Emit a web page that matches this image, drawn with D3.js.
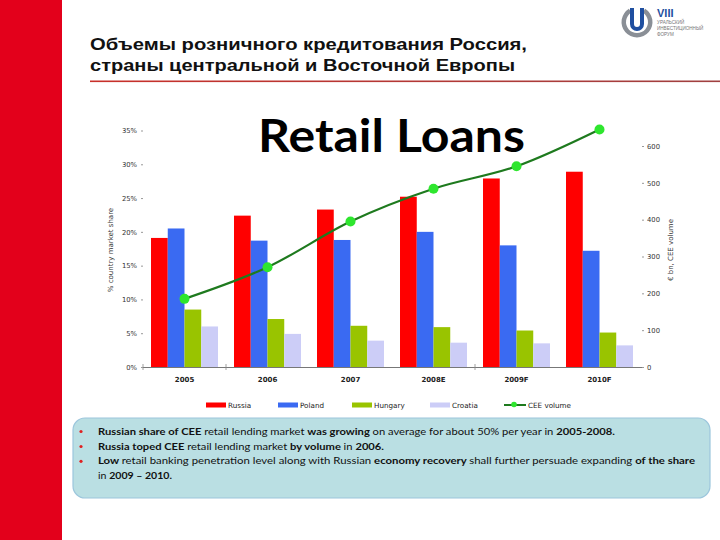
<!DOCTYPE html>
<html><head><meta charset="utf-8">
<script src="https://cdn.jsdelivr.net/npm/d3@7"></script>
<style>html,body{margin:0;padding:0;background:#fff;}svg{display:block;}</style>
</head><body>
<script>
const years = ["2005","2006","2007","2008E","2009F","2010F"];
const seriesNames = ["Russia","Poland","Hungary","Croatia"];
const russia  = [19.1, 22.4, 23.3, 25.2, 27.9, 28.9];
const poland  = [20.5, 18.7, 18.8, 20.0, 18.0, 17.2];
const hungary = [8.5, 7.1, 6.1, 5.9, 5.4, 5.1];
const croatia = [6.0, 4.9, 3.9, 3.6, 3.5, 3.2];
const ceeVolume = [185, 271, 395, 484, 545, 645];
const leftTicks = [0,5,10,15,20,25,30,35];
const rightTicks = [0,100,200,300,400,500,600];
const colors = ["#ff0000","#3a6af2","#99c400","#cccdf7"];
const bullets = [
  [["Russian share of CEE ",1],["retail lending market ",0],["was growing ",1],["on average for about 50% per year in ",0],["2005-2008.",1]],
  [["Russia toped CEE ",1],["retail lending market ",0],["by volume ",1],["in ",0],["2006.",1]],
  [["Low ",1],["retail banking penetration level along with Russian ",0],["economy recovery ",1],["shall further persuade expanding ",0],["of the share",1]],
  [["in ",0],["2009 – 2010.",1]]
];

const W=720,H=540;
const svg=d3.select("body").append("svg").attr("width",W).attr("height",H);

// left red strip
svg.append("rect").attr("x",0).attr("y",0).attr("width",62).attr("height",H).attr("fill","#e3001b");

// header
const hdr=svg.append("g").attr("font-family","Liberation Sans, Arial, sans-serif").attr("font-weight","bold").attr("font-size",17).attr("fill","#111");
hdr.append("text").attr("x",90).attr("y",49.5).attr("textLength",437).attr("lengthAdjust","spacingAndGlyphs").text("Объемы  розничного кредитования Россия,");
hdr.append("text").attr("x",90).attr("y",70.5).attr("textLength",425).attr("lengthAdjust","spacingAndGlyphs").text("страны центральной и Восточной Европы");
const grad=svg.append("defs").append("linearGradient").attr("id","hl");
grad.append("stop").attr("offset","0%").attr("stop-color","#c8302a");
grad.append("stop").attr("offset","100%").attr("stop-color","#a04040");
svg.append("rect").attr("x",90).attr("y",80.5).attr("width",630).attr("height",1.6).attr("fill","url(#hl)");

// logo
const lg=svg.append("g");
lg.append("path").attr("d",d3.arc()({innerRadius:11,outerRadius:15.5,startAngle:0.55,endAngle:2*Math.PI-0.55})).attr("transform","translate(637,22)").attr("fill","#8a8f96");
lg.append("path").attr("d","M630,8 L630,24 A7,7 0 0 0 644,24 L644,8 L640,8 L640,24 A3,3 0 0 1 634,24 L634,8 Z").attr("fill","#1f4fa0");
lg.append("text").attr("x",657).attr("y",17).attr("font-family","Liberation Sans, Arial").attr("font-weight","bold").attr("font-size",11).attr("fill","#1f4fa0").text("VIII");
const lt=lg.append("g").attr("font-family","Liberation Sans, Arial").attr("font-size",4.6).attr("fill","#777");
lt.append("text").attr("x",657).attr("y",24).text("УРАЛЬСКИЙ");
lt.append("text").attr("x",657).attr("y",30).text("ИНВЕСТИЦИОННЫЙ");
lt.append("text").attr("x",657).attr("y",36).text("ФОРУМ");

// chart title
svg.append("text").attr("x",258).attr("y",151.5).attr("textLength",267).attr("lengthAdjust","spacingAndGlyphs")
  .attr("font-family","Lato, 'Open Sans', sans-serif").attr("font-weight","bold").attr("font-size",46).attr("fill","#000").text("Retail Loans");

// scales
const x0=d3.scaleBand().domain(years).range([143,641]).paddingInner(0.193).paddingOuter(0.0965);
const x1=d3.scaleBand().domain(seriesNames).range([0,x0.bandwidth()]);
const yL=d3.scaleLinear().domain([0,35]).range([367,130.5]);
const yR=d3.scaleLinear().domain([0,600]).range([367,146]);

const data=[russia,poland,hungary,croatia];
const gBars=svg.append("g");
years.forEach((yr,i)=>{
  seriesNames.forEach((s,j)=>{
    gBars.append("rect").attr("x",x0(yr)+x1(s)).attr("y",yL(data[j][i])).attr("width",x1.bandwidth()).attr("height",yL(0)-yL(data[j][i])).attr("fill",colors[j]);
  });
});

// x axis baseline
svg.append("line").attr("x1",143).attr("x2",642).attr("y1",367.5).attr("y2",367.5).attr("stroke","#777").attr("stroke-width",1);
[143,x0.step()+143,4*x0.step()+143].forEach(v=>{
  svg.append("line").attr("x1",v).attr("x2",v).attr("y1",364).attr("y2",370).attr("stroke","#888").attr("stroke-width",0.8);
});

// left axis
const la=svg.append("g").attr("transform","translate(143,0)").call(d3.axisLeft(yL).tickValues(leftTicks).tickFormat(d=>d+"%").tickSize(2).tickPadding(4));
la.select(".domain").remove();
la.selectAll("text").attr("font-family","DejaVu Sans, Verdana, sans-serif").attr("font-size",6.8).attr("fill","#333");
la.selectAll("line").attr("stroke","#999");

// right axis
const ra=svg.append("g").attr("transform","translate(642,0)").call(d3.axisRight(yR).tickValues(rightTicks).tickSize(2).tickPadding(3));
ra.select(".domain").remove();
ra.selectAll("text").attr("font-family","DejaVu Sans, Verdana, sans-serif").attr("font-size",6.8).attr("fill","#333");
ra.selectAll("line").attr("stroke","#999");

// x labels
const xa=svg.append("g").attr("transform","translate(0,367)").call(d3.axisBottom(x0).tickSize(0).tickPadding(10));
xa.select(".domain").remove();
xa.selectAll("text").attr("font-family","DejaVu Sans, Verdana, sans-serif").attr("font-size",7).attr("font-weight","bold").attr("fill","#222");

// axis titles
svg.append("text").attr("transform","translate(113,250) rotate(-90)").attr("text-anchor","middle")
  .attr("font-family","DejaVu Sans, Verdana, sans-serif").attr("font-size",7).attr("fill","#333").text("% country market share");
svg.append("text").attr("transform","translate(673,250) rotate(-90)").attr("text-anchor","middle")
  .attr("font-family","DejaVu Sans, Verdana, sans-serif").attr("font-size",7).attr("fill","#333").text("€ bn, CEE volume");

// line
const cx=i=>x0(years[i])+x0.bandwidth()/2;
const line=d3.line().x((d,i)=>cx(i)).y(d=>yR(d)).curve(d3.curveMonotoneX);
svg.append("path").datum(ceeVolume).attr("d",line).attr("fill","none").attr("stroke","#1e7a1e").attr("stroke-width",2.2);
svg.selectAll("circle.pt").data(ceeVolume).enter().append("circle").attr("class","pt")
  .attr("cx",(d,i)=>cx(i)).attr("cy",d=>yR(d)).attr("r",5).attr("fill","#2ee62e");

// legend
const legX=[206,278,352,430];
const leg=svg.append("g").attr("font-family","DejaVu Sans, Verdana, sans-serif").attr("font-size",7.2).attr("fill","#222");
seriesNames.forEach((s,j)=>{
  leg.append("rect").attr("x",legX[j]).attr("y",402.5).attr("width",20).attr("height",5).attr("fill",colors[j]);
  leg.append("text").attr("x",legX[j]+22).attr("y",408).text(s);
});
leg.append("line").attr("x1",504).attr("x2",526).attr("y1",405).attr("y2",405).attr("stroke","#1e7a1e").attr("stroke-width",2);
leg.append("circle").attr("cx",514).attr("cy",404.5).attr("r",2.8).attr("fill","#2ee62e");
leg.append("text").attr("x",528).attr("y",408).text("CEE volume");

// bottom box
svg.append("rect").attr("x",73).attr("y",418).attr("width",637).attr("height",80).attr("rx",12).attr("ry",12)
  .attr("fill","#badfe3").attr("stroke","#9cc6dc").attr("stroke-width",1.2);
const bt=svg.append("g").attr("font-family","Lato, 'Open Sans', sans-serif").attr("font-size",10.3).attr("fill","#111");
const baseY=[434.5,449.5,464.3,479];
const lens=[517,286,597,74];
bullets.forEach((parts,k)=>{
  if(k<3) bt.append("circle").attr("cx",81).attr("cy",baseY[k]-3).attr("r",1.6).attr("fill","#e02020");
  const t=bt.append("text").attr("x",98).attr("y",baseY[k]);
  t.attr("textLength",lens[k]).attr("lengthAdjust","spacingAndGlyphs");
  parts.forEach(p=>t.append("tspan").attr("font-weight",p[1]?"bold":"normal").text(p[0]));
});
</script>
</body></html>
